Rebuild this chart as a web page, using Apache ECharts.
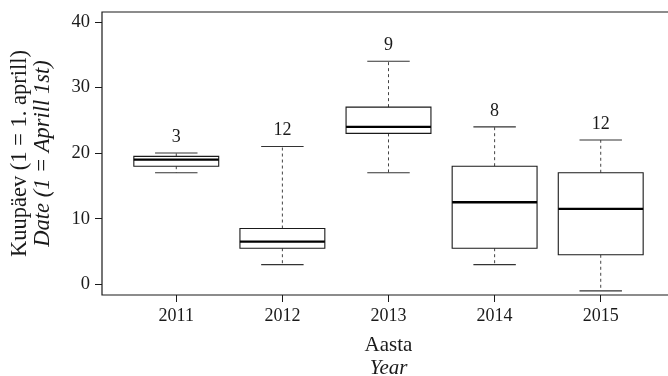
<!DOCTYPE html>
<html>
<head>
<meta charset="utf-8">
<script src="https://cdn.jsdelivr.net/npm/echarts@6/dist/echarts.min.js"></script>
<style>
  html, body { margin: 0; padding: 0; background: #fff; }
  #chart { width: 668px; height: 376px; }
</style>
</head>
<body>
<div id="chart"></div>
<script>
// Hatch dates per year (day 1 = 1 April): five-number summaries and sample sizes
const years = ['2011', '2012', '2013', '2014', '2015'];
const whiskerLow = [17, 3, 17, 3, -1];
const quartile1 = [18, 5.5, 23, 5.5, 4.5];
const medians = [19, 6.5, 24, 12.5, 11.5];
const quartile3 = [19.5, 8.5, 27, 18, 17];
const whiskerHigh = [20, 21, 34, 24, 22];
const counts = [3, 12, 9, 8, 12];
const yTicks = [0, 10, 20, 30, 40];

const FONT = '"Liberation Serif", "DejaVu Serif", serif';
const INK = '#1a1a1a';

const boxData = years.map((y, i) => [i, whiskerLow[i], quartile1[i], medians[i], quartile3[i], whiskerHigh[i], counts[i]]);

function renderBox(params, api) {
  const i = api.value(0);
  const w = api.size([0.8, 0])[0];
  const half = w / 2;
  const cap = w / 4;
  const pLow = api.coord([i, api.value(1)]);
  const pQ1 = api.coord([i, api.value(2)]);
  const pMed = api.coord([i, api.value(3)]);
  const pQ3 = api.coord([i, api.value(4)]);
  const pHigh = api.coord([i, api.value(5)]);
  const x = pMed[0];
  const dashed = { stroke: '#444', lineWidth: 1, lineDash: [3, 3] };
  const solid = { stroke: '#333', lineWidth: 1.1 };
  return {
    type: 'group',
    children: [
      { type: 'line', shape: { x1: x, y1: pQ3[1], x2: x, y2: pHigh[1] }, style: dashed },
      { type: 'line', shape: { x1: x, y1: pQ1[1], x2: x, y2: pLow[1] }, style: dashed },
      { type: 'line', shape: { x1: x - cap, y1: pHigh[1], x2: x + cap, y2: pHigh[1] }, style: solid },
      { type: 'line', shape: { x1: x - cap, y1: pLow[1], x2: x + cap, y2: pLow[1] }, style: solid },
      { type: 'rect', shape: { x: x - half, y: pQ3[1], width: w, height: pQ1[1] - pQ3[1] },
        style: { fill: '#fff', stroke: INK, lineWidth: 1.1 } },
      { type: 'line', shape: { x1: x - half, y1: pMed[1], x2: x + half, y2: pMed[1] },
        style: { stroke: '#000', lineWidth: 2.4 } },
      { type: 'text', x: x, y: pHigh[1] - 16,
        style: { text: String(api.value(6)), font: '18px ' + FONT, fill: INK,
                 align: 'center', verticalAlign: 'middle' } }
    ]
  };
}

const chart = echarts.init(document.getElementById('chart'), null, { renderer: 'canvas' });
chart.setOption({
  animation: false,
  backgroundColor: '#fff',
  grid: {
    left: 102, top: 12, width: 573, bottom: 81,
    outerBoundsMode: 'none',
    containLabel: false,
    show: true, borderColor: INK, borderWidth: 1.2, backgroundColor: 'transparent'
  },
  xAxis: {
    type: 'value', min: -0.7, max: 4.7,
    axisLine: { show: false, onZero: false },
    splitLine: { show: false },
    axisTick: { show: true, length: 7, customValues: [0, 1, 2, 3, 4], lineStyle: { color: INK } },
    axisLabel: {
      customValues: [0, 1, 2, 3, 4], margin: 12,
      formatter: v => years[Math.round(v)],
      fontFamily: FONT, fontSize: 18, color: INK
    },
    name: '{a|Aasta}\n{b|Year}',
    nameLocation: 'middle', nameGap: 39,
    nameTextStyle: {
      rich: {
        a: { fontFamily: FONT, fontSize: 21, color: INK, lineHeight: 23 },
        b: { fontFamily: FONT, fontSize: 21, fontStyle: 'italic', color: INK, lineHeight: 23 }
      }
    }
  },
  yAxis: {
    type: 'value', min: -1.63, max: 41.5,
    axisLine: { show: false, onZero: false },
    splitLine: { show: false },
    axisTick: { show: true, length: 7, customValues: yTicks, lineStyle: { color: INK } },
    axisLabel: {
      customValues: yTicks, margin: 12,
      fontFamily: FONT, fontSize: 18.5, color: INK
    },
    name: '{a|Kuupäev (1 = 1. aprill)}\n{b|Date (1 = Aprill 1st)}',
    nameLocation: 'middle', nameRotate: 90, nameGap: 47,
    nameTextStyle: {
      rich: {
        a: { fontFamily: FONT, fontSize: 22.5, color: INK, lineHeight: 23 },
        b: { fontFamily: FONT, fontSize: 22.5, fontStyle: 'italic', color: INK, lineHeight: 23 }
      }
    }
  },
  series: [{
    type: 'custom',
    renderItem: renderBox,
    data: boxData,
    encode: { x: 0, y: [1, 5] },
    clip: false
  }]
});
</script>
</body>
</html>
